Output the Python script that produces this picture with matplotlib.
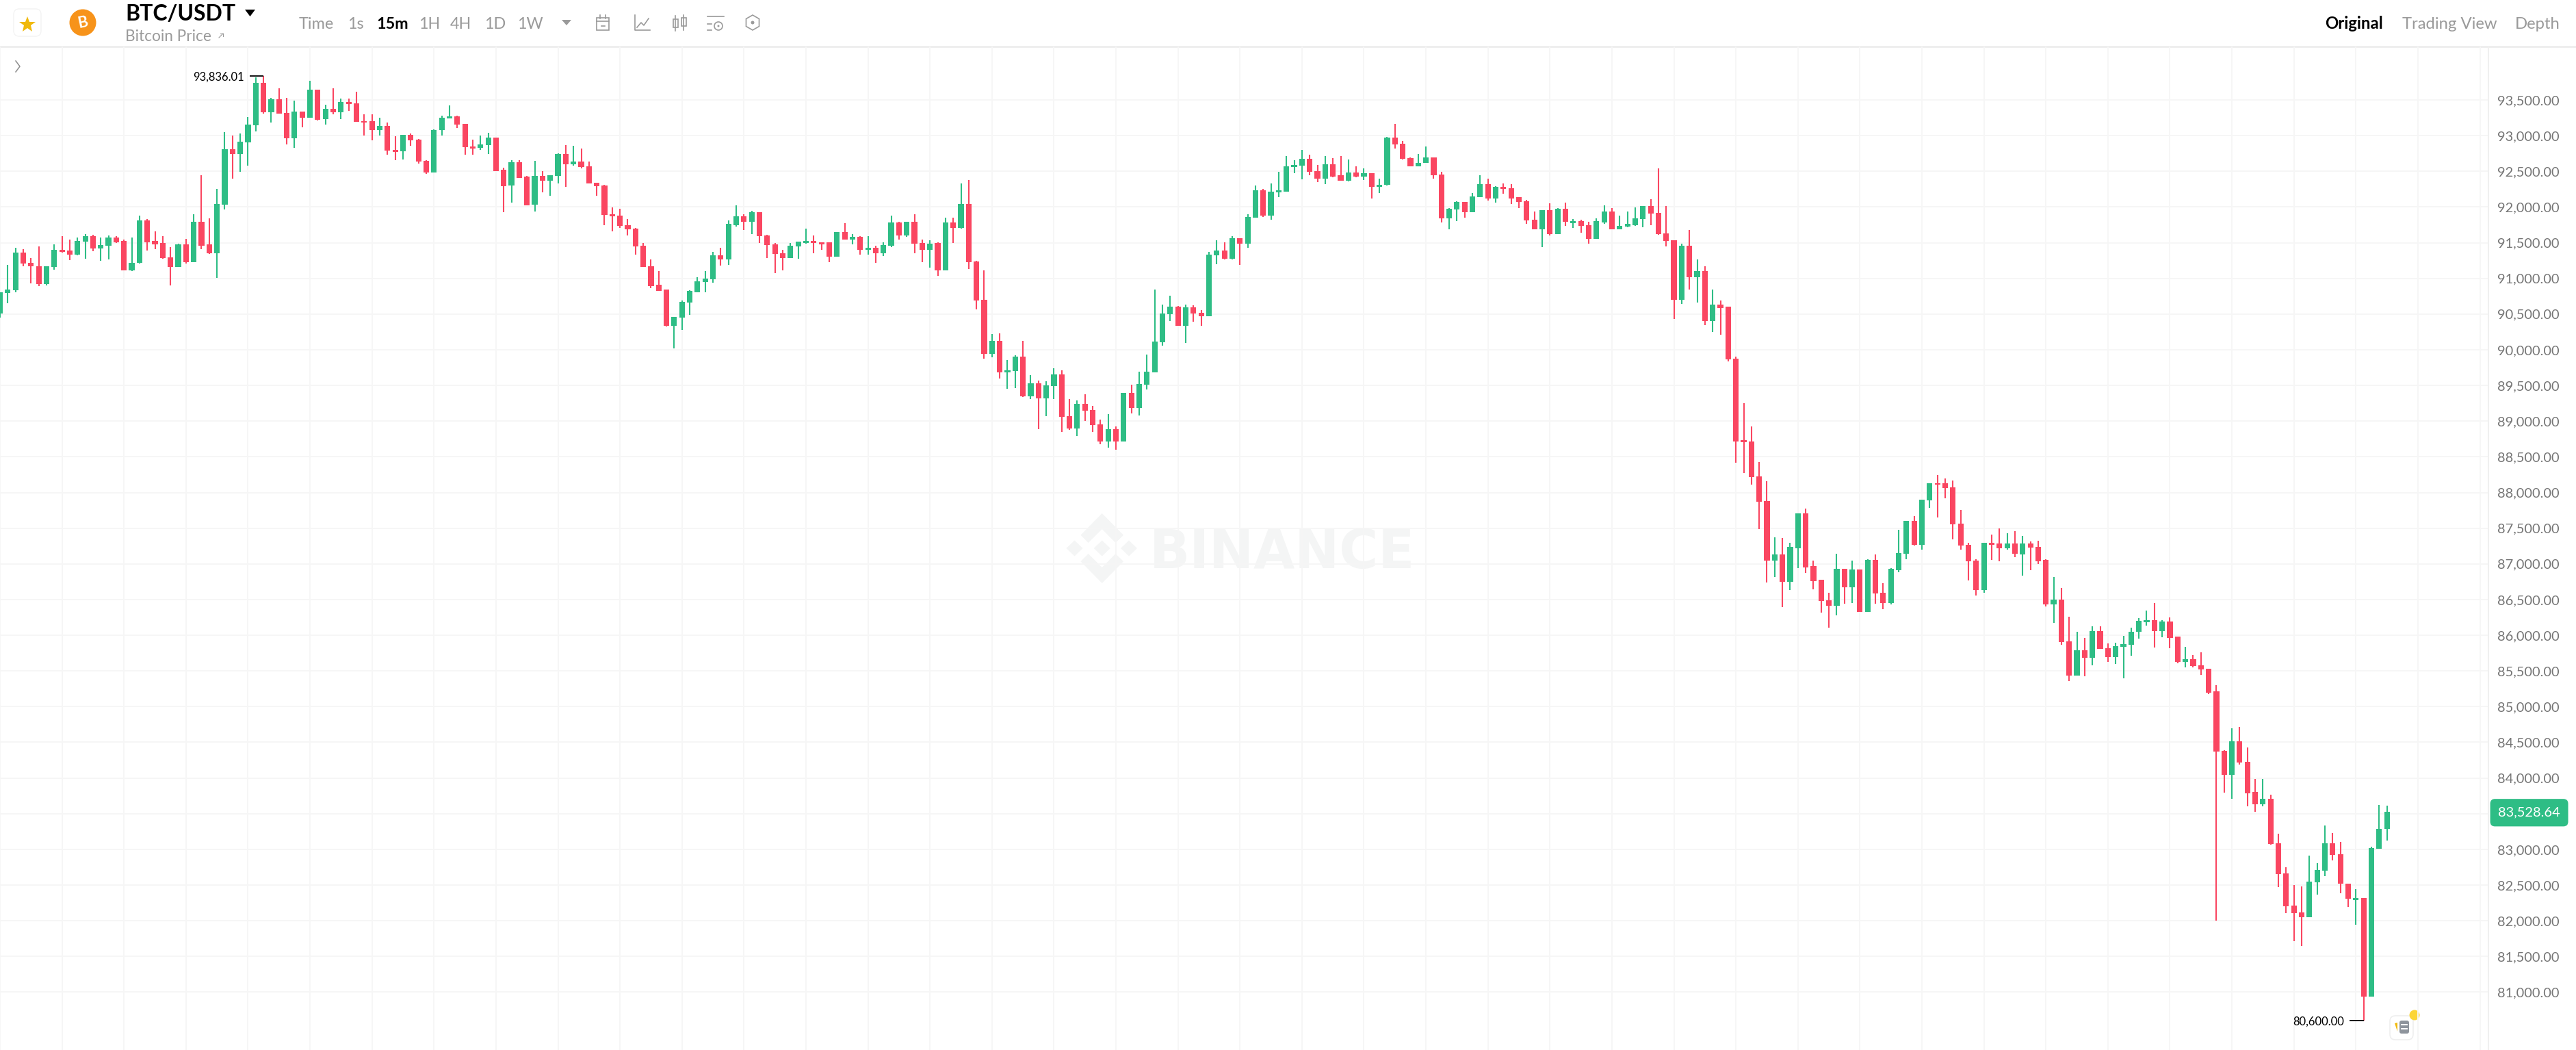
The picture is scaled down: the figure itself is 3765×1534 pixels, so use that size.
import matplotlib
matplotlib.use("Agg")
import matplotlib.pyplot as plt
from matplotlib.patches import Circle, FancyBboxPatch, Polygon, Rectangle, RegularPolygon

plt.rcParams['font.family'] = ['Lato', 'DejaVu Sans']

# 15m candles
opens = [
    90504, 90792, 90834, 91359, 91218, 91173, 90923, 91160, 91401, 91391,
    91330, 91513, 91587, 91423, 91462, 91571, 91520, 91109, 91215, 91811,
    91523, 91491, 91292, 91160, 91481, 91231, 91789, 91475, 91350, 92035,
    92805, 92741, 92907, 93144, 93740, 93327, 93507, 93321, 92959, 93334,
    93250, 93648, 93228, 93375, 93327, 93474, 93452, 93205, 93202, 93074,
    93138, 92798, 92779, 93010, 92946, 92644, 92484, 93074, 93244, 93273,
    93167, 92850, 92826, 92864, 92970, 92519, 92298, 92628, 92423, 92032,
    92436, 92365, 92436, 92743, 92602, 92634, 92573, 92340, 92304, 91895,
    91876, 91748, 91700, 91453, 91165, 90909, 90842, 90336, 90452, 90663,
    90807, 90951, 90983, 91322, 91264, 91748, 91866, 91789, 91927, 91604,
    91476, 91351, 91287, 91444, 91495, 91524, 91501, 91501, 91306, 91648,
    91543, 91584, 91402, 91431, 91354, 91456, 91786, 91604, 91792, 91492,
    91399, 91492, 91114, 91786, 91706, 92039, 91239, 90698, 89943, 90125,
    89687, 89703, 89908, 89348, 89527, 89319, 89488, 89658, 89066, 88893,
    89239, 89156, 88951, 88714, 88884, 88711, 89396, 89188, 89508, 89687,
    90109, 90503, 90602, 90336, 90596, 90519, 90471, 91319, 91392, 91274,
    91559, 91485, 91847, 92234, 91882, 92202, 92218, 92560, 92583, 92672,
    92503, 92394, 92599, 92442, 92372, 92480, 92429, 92474, 92282, 92309,
    92968, 92888, 92686, 92568, 92613, 92699, 92453, 91838, 91969, 92072,
    91931, 92142, 92325, 92123, 92283, 92267, 92136, 92081, 91825, 91685,
    91957, 91624, 91979, 91777, 91806, 91749, 91557, 91787, 91937, 91685,
    91723, 91749, 91832, 92017, 91921, 91630, 91534, 90696, 91457, 91016,
    91105, 90398, 90632, 90603, 89875, 88730, 88714, 88229, 87883, 87044,
    87136, 86750, 87223, 87704, 86969, 86774, 86492, 86416, 86933, 86675,
    86925, 86329, 87060, 86595, 86452, 86913, 87144, 87601, 87271, 87887,
    88133, 88133, 88070, 87565, 87267, 87048, 86631, 87291, 87287, 87219,
    87287, 87136, 87283, 87241, 87053, 86433, 86503, 85912, 85436, 85787,
    85682, 86059, 85822, 85695, 85842, 85870, 86046, 86184, 86209, 86059,
    86196, 85979, 85628, 85663, 85583, 85529, 85218, 84379, 84043, 84515,
    84229, 83800, 83636, 83708, 83086, 82665, 82215, 82118, 82050, 82536,
    82700, 83086, 82932, 82522, 82290, 82318, 80940, 83008, 83283,
]
closes = [
    90802, 90840, 91359, 91209, 91167, 90923, 91170, 91398, 91372, 91334,
    91523, 91590, 91423, 91471, 91571, 91507, 91109, 91221, 91811, 91510,
    91481, 91282, 91160, 91481, 91231, 91789, 91462, 91350, 92039, 92805,
    92741, 92917, 93151, 93740, 93327, 93507, 93308, 92959, 93334, 93253,
    93648, 93225, 93375, 93327, 93474, 93442, 93196, 93180, 93074, 93138,
    92789, 92769, 93010, 92936, 92635, 92484, 93080, 93253, 93273, 93157,
    92837, 92821, 92880, 92970, 92503, 92295, 92628, 92410, 92026, 92436,
    92365, 92445, 92743, 92602, 92634, 92564, 92327, 92295, 91885, 91866,
    91738, 91687, 91444, 91156, 90896, 90829, 90336, 90461, 90672, 90820,
    90960, 90996, 91322, 91264, 91760, 91866, 91789, 91930, 91594, 91463,
    91341, 91287, 91453, 91514, 91520, 91495, 91476, 91306, 91648, 91543,
    91581, 91402, 91431, 91354, 91469, 91783, 91604, 91792, 91482, 91396,
    91488, 91114, 91783, 91706, 92039, 91226, 90688, 89943, 90125, 89687,
    89712, 89908, 89348, 89527, 89319, 89498, 89658, 89056, 88893, 89239,
    89146, 88944, 88714, 88884, 88711, 89399, 89188, 89517, 89696, 90119,
    90512, 90602, 90336, 90596, 90509, 90471, 91328, 91392, 91274, 91559,
    91485, 91860, 92234, 91882, 92215, 92231, 92570, 92592, 92672, 92490,
    92394, 92599, 92429, 92372, 92480, 92429, 92471, 92282, 92314, 92971,
    92875, 92673, 92568, 92619, 92699, 92443, 91838, 91979, 92072, 91931,
    92152, 92325, 92123, 92283, 92257, 92120, 92069, 91813, 91685, 91957,
    91624, 91979, 91790, 91806, 91733, 91557, 91800, 91937, 91685, 91736,
    91761, 91841, 92017, 91912, 91617, 91521, 90696, 91457, 91016, 91105,
    90398, 90632, 90587, 89861, 88718, 88702, 88217, 87867, 87044, 87136,
    86750, 87235, 87704, 86953, 86762, 86480, 86416, 86933, 86675, 86925,
    86329, 87060, 86583, 86452, 86929, 87156, 87601, 87267, 87899, 88133,
    88110, 88062, 87557, 87259, 87036, 86631, 87291, 87263, 87219, 87287,
    87140, 87286, 87231, 87040, 86429, 86503, 85902, 85436, 85787, 85682,
    86059, 85813, 85695, 85851, 85880, 86052, 86206, 86209, 86059, 86196,
    85966, 85628, 85663, 85573, 85519, 85196, 84368, 84043, 84515, 84218,
    83786, 83636, 83708, 83072, 82650, 82204, 82104, 82050, 82551, 82708,
    83086, 82922, 82515, 82304, 82315, 80940, 83015, 83290, 83528.64,
]
highs = [
    90802, 91186, 91433, 91407, 91282, 91449, 91170, 91481, 91593, 91545,
    91577, 91616, 91609, 91571, 91603, 91593, 91545, 91571, 91875, 91833,
    91657, 91587, 91436, 91487, 91551, 91901, 92449, 91840, 92250, 93051,
    93000, 93026, 93260, 93814, 93836.01, 93526, 93660, 93532, 93494, 93340,
    93769, 93648, 93430, 93660, 93523, 93523, 93615, 93295, 93295, 93250,
    93183, 92994, 93013, 93026, 92949, 92660, 93083, 93276, 93423, 93282,
    93167, 92939, 93000, 93040, 92976, 92551, 92653, 92660, 92436, 92644,
    92506, 92445, 92756, 92864, 92858, 92820, 92634, 92340, 92308, 91994,
    91975, 91834, 91703, 91498, 91264, 91101, 90842, 90461, 90688, 90832,
    91015, 91101, 91370, 91428, 91808, 92026, 91898, 91946, 91930, 91607,
    91498, 91402, 91498, 91514, 91700, 91604, 91508, 91501, 91648, 91776,
    91616, 91591, 91594, 91456, 91508, 91879, 91796, 91792, 91898, 91540,
    91530, 91504, 91850, 91850, 92333, 92378, 91242, 91108, 90224, 90228,
    89856, 89927, 90128, 89648, 89568, 89556, 89738, 89716, 89306, 89290,
    89380, 89210, 89018, 89095, 88922, 89399, 89511, 89696, 89930, 90848,
    90631, 90762, 90618, 90628, 90624, 90554, 91370, 91533, 91504, 91591,
    91559, 91898, 92298, 92256, 92330, 92496, 92718, 92660, 92801, 92728,
    92587, 92718, 92689, 92718, 92667, 92571, 92544, 92474, 92397, 92981,
    93160, 92929, 92693, 92741, 92850, 92699, 92497, 91985, 92085, 92075,
    92193, 92443, 92398, 92289, 92331, 92321, 92136, 92104, 91934, 91957,
    92049, 91989, 92059, 91835, 91819, 91797, 91841, 92027, 91985, 91877,
    91937, 91995, 92017, 92113, 92539, 92017, 91534, 91489, 91678, 91262,
    91169, 90843, 90689, 90603, 89906, 89250, 88925, 88428, 88157, 87374,
    87366, 87295, 87704, 87772, 87044, 86774, 86599, 87144, 86933, 87044,
    86925, 87064, 87128, 86734, 86937, 87474, 87601, 87672, 87899, 88133,
    88245, 88201, 88169, 87752, 87295, 87068, 87295, 87410, 87493, 87434,
    87462, 87388, 87318, 87321, 87062, 86813, 86660, 86263, 86053, 85966,
    86129, 86126, 85890, 85893, 85995, 86110, 86238, 86343, 86452, 86209,
    86247, 85979, 85838, 85720, 85765, 85529, 85304, 84393, 84693, 84711,
    84429, 83982, 83986, 83765, 83222, 82754, 82500, 82479, 82911, 82808,
    83336, 83233, 83108, 82522, 82443, 82318, 83040, 83618, 83611,
]
lows = [
    90450, 90648, 90802, 91167, 90927, 90888, 90898, 91119, 91366, 91257,
    91324, 91273, 91385, 91247, 91270, 91491, 91109, 91106, 91212, 91388,
    91414, 91279, 90904, 91157, 91209, 91228, 91414, 91346, 91007, 91965,
    92401, 92491, 92580, 93058, 93308, 93186, 93305, 92875, 92824, 93119,
    93250, 93208, 93154, 93298, 93234, 93343, 93196, 93000, 92933, 93003,
    92731, 92657, 92670, 92859, 92612, 92465, 92484, 93003, 93244, 93106,
    92731, 92737, 92800, 92746, 92500, 91930, 92058, 92410, 92020, 91936,
    92205, 92154, 92327, 92282, 92576, 92544, 92327, 92154, 91741, 91658,
    91706, 91597, 91335, 91156, 90858, 90826, 90330, 90023, 90279, 90490,
    90807, 90807, 90944, 91175, 91184, 91728, 91674, 91616, 91495, 91287,
    91072, 91111, 91284, 91274, 91482, 91348, 91396, 91223, 91306, 91543,
    91472, 91332, 91335, 91216, 91309, 91434, 91546, 91578, 91348, 91226,
    91146, 91037, 91108, 91498, 91696, 91127, 90567, 89876, 89898, 89594,
    89450, 89466, 89338, 89312, 88884, 89072, 89312, 88845, 88877, 88788,
    89002, 88852, 88676, 88628, 88602, 88711, 89108, 89082, 89447, 89687,
    90061, 90404, 90336, 90100, 90394, 90336, 90471, 91197, 91261, 91264,
    91184, 91431, 91847, 91856, 91818, 92138, 92218, 92474, 92384, 92442,
    92346, 92320, 92416, 92365, 92362, 92416, 92378, 92122, 92192, 92299,
    92817, 92664, 92568, 92568, 92613, 92395, 91781, 91688, 91800, 91848,
    91928, 92139, 92091, 92059, 92184, 92040, 91985, 91768, 91685, 91438,
    91601, 91624, 91739, 91707, 91643, 91483, 91553, 91765, 91685, 91685,
    91717, 91739, 91713, 91745, 91608, 91451, 90430, 90645, 90846, 90664,
    90347, 90248, 90209, 89835, 88416, 88269, 88110, 87486, 86738, 86818,
    86396, 86631, 86937, 86869, 86639, 86317, 86102, 86277, 86440, 86452,
    86329, 86329, 86440, 86361, 86432, 86881, 87064, 87259, 87195, 87784,
    87652, 87919, 87342, 87199, 86770, 86559, 86591, 87060, 87032, 87199,
    87096, 86832, 86909, 86998, 86407, 86174, 85867, 85356, 85436, 85429,
    85583, 85813, 85624, 85599, 85401, 85717, 85950, 86139, 85826, 85969,
    85822, 85605, 85551, 85548, 85449, 85177, 82001, 83793, 83704, 84186,
    83604, 83525, 83600, 83068, 82472, 82104, 81715, 81651, 82050, 82365,
    82622, 82843, 82383, 82193, 81943, 80600, 80940, 83008, 83122,
]

price_ticks = list(range(81000, 94000, 500))
time_grid = list(range(0, 321, 8))

GREEN = '#2EBD85'
RED = '#FA4661'
GRID = '#F6F6F6'
GREY = '#9A9A9A'
WATERMARK = '#F4F5F5'
W, H = 3766, 1534
fig = plt.figure(figsize=(W / 100, H / 100), dpi=100, facecolor='white')

# page furniture drawn in pixel coords, under the chart
bg = fig.add_axes([0, 0, 1, 1], zorder=0)
bg.set_xlim(0, W)
bg.set_ylim(H, 0)
bg.axis('off')

ax = fig.add_axes([0, 0, 3637 / W, (H - 68) / H], zorder=1)
ax.patch.set_visible(False)
ax.set_xlim(0.13, 321.1)
ax.set_ylim(80189, 94248)

ax.set_yticks(price_ticks)
ax.set_yticklabels([f"{p:,.2f}" for p in price_ticks], fontsize=14.4, color='#757575')
ax.yaxis.tick_right()
ax.tick_params(axis='y', length=0, pad=9.5)
ax.set_xticks(time_grid)
ax.tick_params(axis='x', length=0, labelbottom=False)
ax.grid(True, color=GRID, linewidth=1.4)
ax.set_axisbelow(True)
for name in ['top', 'left', 'bottom']:
    ax.spines[name].set_visible(False)
ax.spines['right'].set_color('#F0F0F0')
ax.spines['right'].set_linewidth(1.4)

# candles
xs = list(range(len(opens)))
colors = [GREEN if c >= o else RED for o, c in zip(opens, closes)]
ax.vlines(xs, lows, highs, colors=colors, linewidth=1.5, zorder=3)
ax.bar(xs, [abs(c - o) for o, c in zip(opens, closes)], bottom=[min(o, c) for o, c in zip(opens, closes)],
       width=0.72, color=colors, linewidth=0, zorder=4)

# highest / lowest markers
i_hi = highs.index(max(highs))
i_lo = lows.index(min(lows))
for i, p in [(i_hi, highs[i_hi]), (i_lo, lows[i_lo])]:
    ax.plot([i - 1.8, i], [p, p], color='black', linewidth=1.3, zorder=5, solid_capstyle='butt')
    ax.text(i - 2.5, p, f"{p:,.2f}", fontsize=11.9, color='black', ha='right', va='center_baseline')

# last price tag
ax.text(1.0039, closes[-1], f"{closes[-1]:,.2f}", transform=ax.get_yaxis_transform(), fontsize=14.4, color='white',
        ha='left', va='center_baseline', clip_on=False, zorder=6,
        bbox=dict(boxstyle='round,pad=0.58,rounding_size=0.35', fc=GREEN, ec='none'))

# header
bg.plot([0, W], [68, 68], color='#EEEEEE', linewidth=2)
bg.add_patch(FancyBboxPatch((22, 15), 36, 36, boxstyle='round,pad=2,rounding_size=8', fc='white', ec='#F3F3F3', lw=1))
bg.plot([40], [36], marker='*', color='#F0B90B', markersize=18, markeredgewidth=0)
bg.add_patch(Circle((121, 33), 19.5, fc='#F7931A', ec='none'))
bg.text(121, 33, 'B', color='white', fontsize=16, fontweight='bold', ha='center', va='center', rotation=12)
bg.text(183, 21, 'BTC/USDT', fontsize=23, fontweight='bold', color='black', ha='left', va='center')
bg.add_patch(Polygon([(358, 14), (373, 14), (365.5, 24)], fc='black', ec='none'))
bg.text(183, 53, 'Bitcoin Price', fontsize=16.3, color=GREY, ha='left', va='center')
bg.plot([320, 326], [55, 49], color=GREY, linewidth=0.8)
bg.plot([322, 326, 326], [49, 49, 53], color=GREY, linewidth=0.8)

toolbar_labels = ['Time', '1s', '15m', '1H', '4H', '1D', '1W']
toolbar_x = [437, 508, 550, 612, 658, 708, 756]
for lab, x in zip(toolbar_labels, toolbar_x):
    active = lab == '15m'
    bg.text(x, 35, lab, fontsize=16.8, ha='left', va='center', color='black' if active else GREY,
            fontweight='bold' if active else 'normal')
bg.add_patch(Polygon([(821, 29), (835, 29), (828, 37)], fc=GREY, ec='none'))

# toolbar icons
ic = dict(color='#9A9A9A', linewidth=1.2)
bg.add_patch(Rectangle((872, 26), 18, 18, fc='none', ec=GREY, lw=1.2))
bg.plot([872, 890], [31, 31], **ic)
bg.plot([877, 877], [22, 27], **ic)
bg.plot([885, 885], [22, 27], **ic)
bg.plot([879, 884, 884], [38, 38, 38], **ic)
bg.plot([928, 928, 950], [22, 44, 44], **ic)
bg.plot([931, 937, 941, 948], [40, 33, 37, 27], **ic)
bg.add_patch(Rectangle((984, 28), 7, 12, fc='none', ec=GREY, lw=1.2))
bg.add_patch(Rectangle((996, 26), 7, 12, fc='none', ec=GREY, lw=1.2))
bg.plot([987.5, 987.5], [23, 45], **ic)
bg.plot([999.5, 999.5], [22, 44], **ic)
bg.plot([1034, 1058], [24, 24], **ic)
bg.plot([1034, 1040], [35, 35], **ic)
bg.plot([1034, 1040], [44, 44], **ic)
bg.add_patch(Circle((1050, 38), 6, fc='none', ec=GREY, lw=1.2))
bg.add_patch(Circle((1050, 38), 1.5, fc=GREY, ec='none'))
bg.add_patch(RegularPolygon((1100, 33), 6, radius=11, fc='none', ec=GREY, lw=1.2))
bg.add_patch(Circle((1100, 33), 2.5, fc=GREY, ec='none'))

bg.text(3398, 35, 'Original', fontsize=17.2, color='black', fontweight='bold', ha='left', va='center')
bg.text(3511, 35, 'Trading View', fontsize=17.2, color=GREY, ha='left', va='center')
bg.text(3676, 35, 'Depth', fontsize=17.2, color=GREY, ha='left', va='center')
bg.plot([23, 29, 23], [89, 97, 105], color='#8C8C8C', linewidth=1.1)

# watermark
for cx in [1570.5, 1610.7, 1650]:
    bg.add_patch(Polygon([(cx - 12, 801), (cx, 789.5), (cx + 12, 801), (cx, 812.5)], fc=WATERMARK, ec='none'))
top_chevron = [(1610.7, 750), (1642, 781.7), (1630.5, 793), (1610.7, 773), (1590.6, 793), (1579.5, 781.7)]
bg.add_patch(Polygon(top_chevron, fc=WATERMARK, ec='none'))
bg.add_patch(Polygon([(x, 1602 - y) for x, y in top_chevron], fc=WATERMARK, ec='none'))
bg.text(1680, 830, 'BINANCE', fontsize=56, fontweight='bold', family='DejaVu Sans', color=WATERMARK,
        ha='left', va='baseline')

# little widget bottom right
bg.add_patch(FancyBboxPatch((3497, 1488), 26, 27, boxstyle='round,pad=4,rounding_size=8', fc='white', ec='#EFEFEF', lw=1.2))
bg.add_patch(Polygon([(3500, 1495), (3504, 1494), (3504, 1507)], fc='#F0B90B', ec='none'))
bg.add_patch(FancyBboxPatch((3507, 1491), 14, 19, boxstyle='round,pad=0,rounding_size=3', fc='#8E949C', ec='none'))
bg.plot([3510, 3518], [1497, 1497], color='white', linewidth=1.4)
bg.plot([3510, 3518], [1503, 1503], color='white', linewidth=1.4)
bg.add_patch(Circle((3529, 1483), 7.5, fc='#FCD535', ec='none'))

fig.savefig('out.png', dpi=100)
